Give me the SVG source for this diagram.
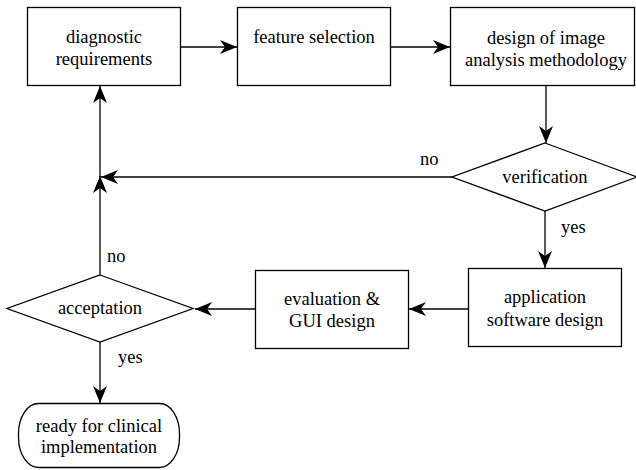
<svg xmlns="http://www.w3.org/2000/svg" width="636" height="470" viewBox="0 0 636 470">
  <defs>
    <marker id="arrow" markerUnits="userSpaceOnUse" markerWidth="20" markerHeight="16" viewBox="-18 -8 19 16" refX="0" refY="0" orient="auto">
      <path d="M0,0 L-17,-7 L-12,0 L-17,7 Z" fill="#000"/>
    </marker>
    <style>
      .box { fill: #fff; stroke: #000; stroke-width: 1.3; }
      .conn { fill: none; stroke: #000; stroke-width: 1.3; }
      .arr { marker-end: url(#arrow); }
      text { font-family: "Liberation Serif", "Times New Roman", Times, serif; font-size: 18.5px; fill: #000; }
      .c { text-anchor: middle; }
    </style>
  </defs>
  <rect width="636" height="470" fill="#fff"/>

  <!-- connectors and branch labels -->
  <g id="connectors">
    <path class="conn arr" d="M181,47 H237"/>
    <path class="conn arr" d="M390,47 H450"/>
    <path class="conn arr" d="M546,86 V143"/>
    <path class="conn arr" d="M452,177 H101"/>
    <path class="conn arr" d="M545,211 V268"/>
    <path class="conn arr" d="M468,309 H409"/>
    <path class="conn arr" d="M255,309 H195"/>
    <path class="conn arr" d="M100,275 V176"/>
    <path class="conn arr" d="M100,177 V86"/>
    <path class="conn arr" d="M100,342 V403"/>
    <text x="420" y="165">no</text>
    <text x="561" y="233">yes</text>
    <text x="107" y="262">no</text>
    <text x="118" y="363">yes</text>
  </g>

  <g id="diagnostic-requirements">
    <rect class="box" x="27.5" y="7.5" width="153" height="78"/>
    <text class="c" x="104" y="43">diagnostic</text>
    <text class="c" x="104" y="65">requirements</text>
  </g>

  <g id="feature-selection">
    <rect class="box" x="237.5" y="7.5" width="153" height="78"/>
    <text class="c" x="314" y="43">feature selection</text>
  </g>

  <g id="design-methodology">
    <rect class="box" x="450.5" y="7.5" width="184" height="78"/>
    <text class="c" x="546" y="44">design of image</text>
    <text class="c" x="546" y="66">analysis methodology</text>
  </g>

  <g id="verification">
    <polygon class="box" points="545,143 637,177 545,211 452,177"/>
    <text class="c" x="545" y="183">verification</text>
  </g>

  <g id="application-software-design">
    <rect class="box" x="468.5" y="268.5" width="153" height="78"/>
    <text class="c" x="545" y="303">application</text>
    <text class="c" x="545" y="326">software design</text>
  </g>

  <g id="evaluation-gui-design">
    <rect class="box" x="255.5" y="270.5" width="153" height="78"/>
    <text class="c" x="332" y="305">evaluation &amp;</text>
    <text class="c" x="332" y="327">GUI design</text>
  </g>

  <g id="acceptation">
    <polygon class="box" points="100,275 193,308.5 100,342 7,308.5"/>
    <text class="c" x="100" y="314">acceptation</text>
  </g>

  <g id="ready-for-clinical-implementation">
    <rect class="box" x="18.5" y="403.5" width="161" height="64" rx="20" ry="30"/>
    <text class="c" x="99" y="432">ready for clinical</text>
    <text class="c" x="99" y="453">implementation</text>
  </g>
</svg>
